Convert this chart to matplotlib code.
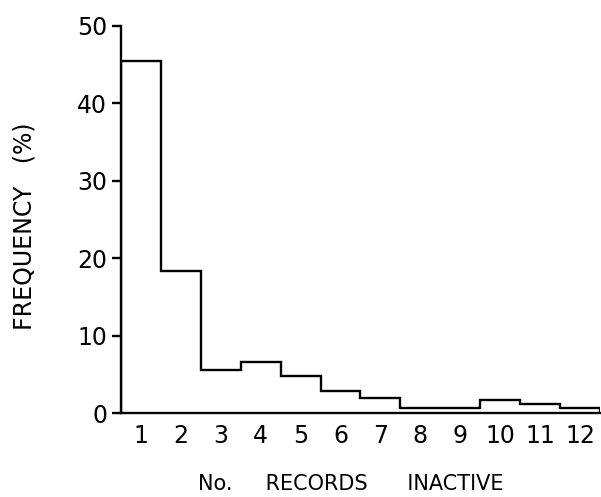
import numpy as np
from matplotlib import pyplot as plt

# 数据
records = [1, 2, 3, 4, 5, 6, 7, 8, 9, 10, 11, 12]
freq = [45.5, 18.3, 5.5, 6.6, 4.8, 2.9, 1.9, 0.7, 0.7, 1.7, 1.1, 0.7]

edges = np.arange(len(records) + 1) + 0.5

fig = plt.figure(figsize=(6.01, 4.97), dpi=100)
ax = fig.add_axes([0.2013, 0.169, 0.797, 0.779])

ax.stairs(freq, edges, color="black", linewidth=1.7, baseline=0)

ax.set_xlim(0.5, 12.5)
ax.set_ylim(0, 50)
ax.set_xticks(records)
ax.set_yticks([0, 10, 20, 30, 40, 50])

ax.spines["top"].set_visible(False)
ax.spines["right"].set_visible(False)
ax.spines["left"].set_linewidth(1.7)
ax.spines["bottom"].set_linewidth(1.7)

ax.tick_params(axis="x", length=0, pad=8, labelsize=17)
ax.tick_params(axis="y", length=6.5, width=1.7, pad=3.5, labelsize=17)

# 坐标轴标题
fig.text(350.5 / 601, 1 - 484 / 497, "No.     RECORDS      INACTIVE",
         fontsize=15, ha="center", va="center")
fig.text(24.7 / 601, 1 - 226 / 497, "FREQUENCY   (%)",
         fontsize=17, rotation=90, ha="center", va="center")

plt.savefig("out.png", dpi=100)
